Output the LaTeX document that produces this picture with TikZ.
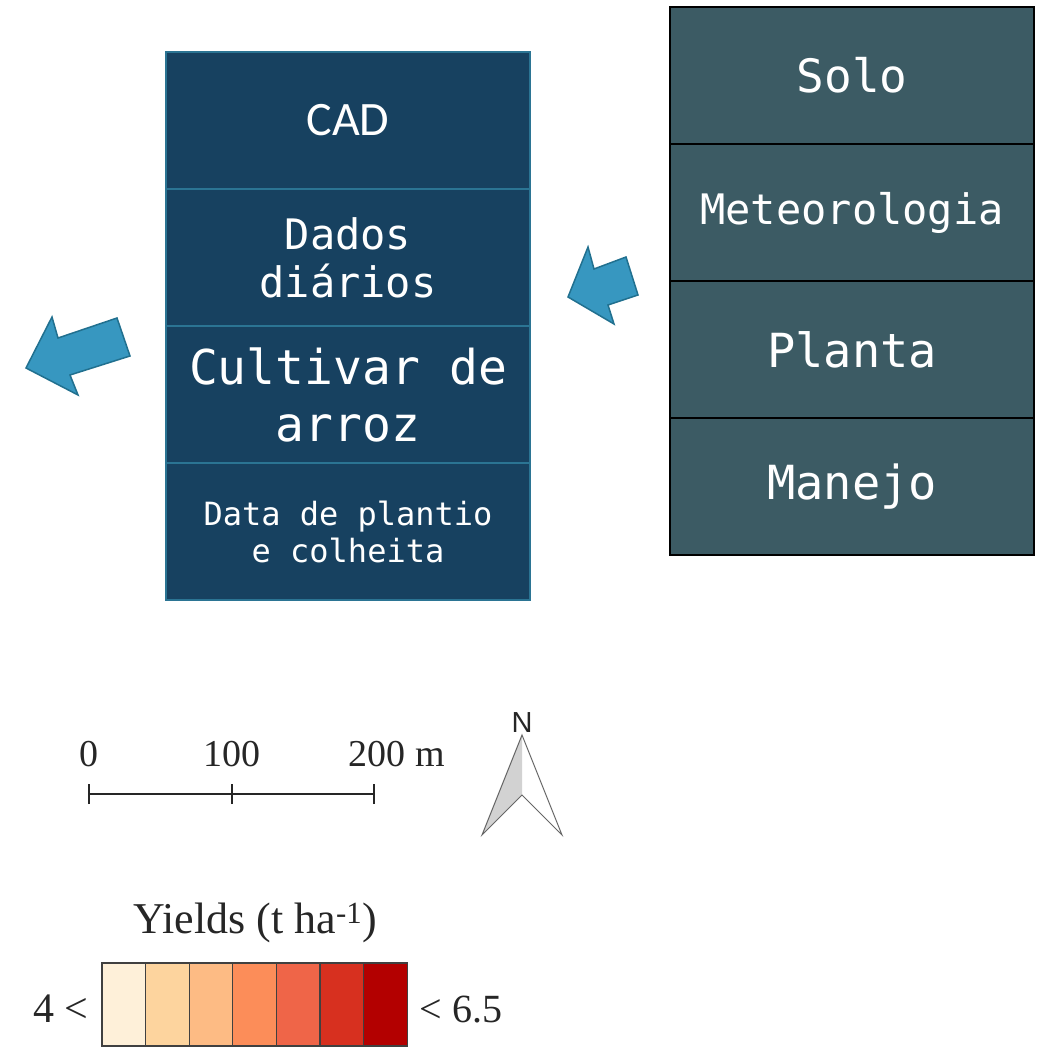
\documentclass[tikz,border=0pt]{standalone}
\usepackage{fontspec}
\setmainfont{Liberation Serif}
\newfontfamily\monofont{DejaVu Sans Mono}
\newfontfamily\cadfont{Carlito}
\newfontfamily\northfont{Liberation Sans}
\usetikzlibrary{positioning}
\usepackage{xcolor}
\definecolor{leftfill}{RGB}{23, 65, 96}
\definecolor{leftline}{RGB}{43, 116, 147}
\definecolor{rightfill}{RGB}{60, 91, 100}
\definecolor{arrowfill}{RGB}{55, 151, 192}
\definecolor{arrowline}{RGB}{33, 112, 143}
\definecolor{yieldA}{HTML}{FEF0D9}
\definecolor{yieldB}{HTML}{FDD49E}
\definecolor{yieldC}{HTML}{FDBB84}
\definecolor{yieldD}{HTML}{FC8D59}
\definecolor{yieldE}{HTML}{EF6548}
\definecolor{yieldF}{HTML}{D7301F}
\definecolor{yieldG}{HTML}{B30000}

\begin{document}
\begin{tikzpicture}[x=1pt, y=-1pt,
  leftcell/.style={draw=leftline, line width=2pt, fill=leftfill, text=white,
    minimum width=364pt, minimum height=137pt, inner sep=0pt, outer sep=0pt, align=center},
  rightcell/.style={draw=black, line width=2pt, fill=rightfill, text=white,
    minimum width=364pt, minimum height=137pt, inner sep=0pt, outer sep=0pt, align=center},
  blockarrow/.style={fill=arrowfill, draw=arrowline, line width=1.5pt, line join=miter},
  scalelabel/.style={anchor=base, font=\fontsize{38}{42}\selectfont, text=black!85},
  legendbox/.style={draw=black!75, line width=1.2pt}]

  \useasboundingbox (0,0) rectangle (1043,1048);

  % coluna da esquerda
  \node[leftcell, font=\cadfont\fontsize{48}{57}\selectfont] (cad) at (348,120.5) {CAD};
  \node[leftcell, below=0pt of cad, font=\monofont\fontsize{42}{48}\selectfont] (dados) {Dados\\diários};
  \node[leftcell, below=0pt of dados, font=\monofont\fontsize{48}{57}\selectfont] (cultivar) {Cultivar de\\arroz};
  \node[leftcell, below=0pt of cultivar, font=\monofont\fontsize{32}{37}\selectfont] (data) {Data de plantio\\e colheita};

  % coluna da direita
  \node[rightcell, font=\monofont\fontsize{46}{52}\selectfont] (solo) at (852,75.5) {Solo};
  \node[rightcell, below=0pt of solo, font=\monofont\fontsize{42}{48}\selectfont] (meteo) {Meteorologia};
  \node[rightcell, below=0pt of meteo, font=\monofont\fontsize{47}{52}\selectfont] (planta) {Planta};
  \node[rightcell, below=0pt of planta, font=\monofont\fontsize{47}{52}\selectfont] (manejo) {Manejo};

  % setas
  \draw[blockarrow] (26,368) -- (52,317) -- (58,338) -- (117,318) -- (130,356) -- (70,375) -- (78,395) -- cycle;
  \draw[blockarrow] (568,297) -- (588,247) -- (594,269) -- (626,257) -- (638,295) -- (608,305) -- (614,324) -- cycle;

  % escala
  \coordinate (s0) at (89,794);
  \coordinate (s1) at (232,794);
  \coordinate (s2) at (374,794);
  \draw[black!85, line width=1.8pt] (s0) -- (s2);
  \foreach \p in {s0,s1,s2}
    \draw[black!85, line width=1.8pt] ([yshift=-10pt]\p) -- ([yshift=10pt]\p);
  \node[scalelabel] (l0) at (89,766) {0};
  \node[scalelabel] (l1) at (232,766) {100};
  \node[scalelabel, anchor=base west] (l2) at (345,766) {200 m};

  % norte
  \fill[gray!35] (522,735) -- (482,835) -- (522,795) -- cycle;
  \draw[gray!80!black, line width=1pt, line join=miter] (522,735) -- (482,835) -- (522,795) -- (562,835) -- cycle;
  \node[anchor=base, font=\northfont\fontsize{29}{32}\selectfont, text=black!85] (north) at (522,732) {N};

  % legenda
  \node[anchor=base, font=\fontsize{44}{48}\selectfont, text=black!85] (ytitle) at (255,933) {Yields (t ha\textsuperscript{-1})};
  \foreach \c [count=\i from 0] in {yieldA,yieldB,yieldC,yieldD,yieldE,yieldF,yieldG}
    \draw[legendbox, fill=\c] (102+43.6*\i,963) rectangle ++(43.6,83);
  \node[anchor=base east, font=\fontsize{42}{46}\selectfont, text=black!85] (lmin) at (92,1022) {4 <};
  \node[anchor=base west, font=\fontsize{40}{44}\selectfont, text=black!85] (lmax) at (416,1022) {< 6.5};

\end{tikzpicture}
\end{document}
